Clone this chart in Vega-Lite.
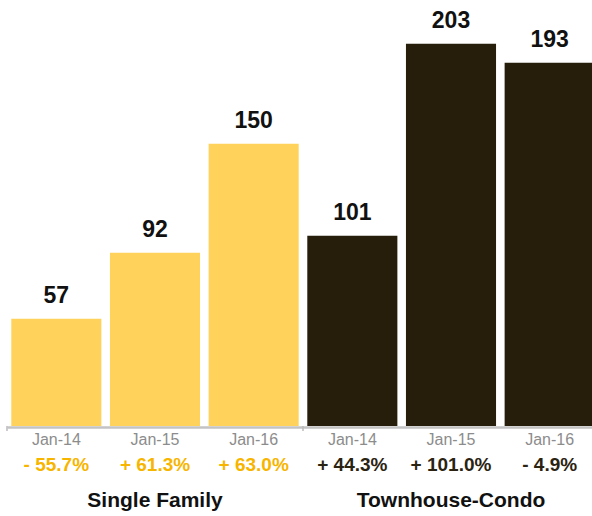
{
  "$schema": "https://vega.github.io/schema/vega-lite/v6.json",
  "width": 585,
  "height": 426,
  "autosize": {"type": "none"},
  "padding": {"left": 7, "top": 0, "right": 0, "bottom": 90},
  "background": "white",
  "config": {"view": {"stroke": null}, "font": "Liberation Sans"},
  "data": {
    "values": [
      {"key": "SF Jan-14", "group": "Single Family", "date": "Jan-14", "value": 57, "pct": "- 55.7%"},
      {"key": "SF Jan-15", "group": "Single Family", "date": "Jan-15", "value": 92, "pct": "+ 61.3%"},
      {"key": "SF Jan-16", "group": "Single Family", "date": "Jan-16", "value": 150, "pct": "+ 63.0%"},
      {"key": "TC Jan-14", "group": "Townhouse-Condo", "date": "Jan-14", "value": 101, "pct": "+ 44.3%"},
      {"key": "TC Jan-15", "group": "Townhouse-Condo", "date": "Jan-15", "value": 203, "pct": "+ 101.0%"},
      {"key": "TC Jan-16", "group": "Townhouse-Condo", "date": "Jan-16", "value": 193, "pct": "- 4.9%"}
    ]
  },
  "encoding": {
    "x": {
      "field": "key",
      "type": "nominal",
      "sort": null,
      "scale": {"range": [0, 592], "paddingInner": 0.087, "paddingOuter": 0.0435},
      "axis": {"labels": false, "ticks": false, "title": null, "domainColor": "#c3c3c3", "domainWidth": 2.5, "offset": 1}
    }
  },
  "layer": [
    {
      "mark": {"type": "bar"},
      "encoding": {
        "y": {"field": "value", "type": "quantitative", "scale": {"domain": [0, 226.3], "nice": false}, "axis": null},
        "color": {"field": "group", "type": "nominal", "scale": {"domain": ["Single Family", "Townhouse-Condo"], "range": ["#FFD35B", "#261D0A"]}, "legend": null}
      }
    },
    {
      "mark": {"type": "text", "dy": -16, "baseline": "alphabetic", "fontSize": 23, "fontWeight": "bold", "color": "#111111"},
      "encoding": {
        "y": {"field": "value", "type": "quantitative"},
        "text": {"field": "value", "type": "quantitative"}
      }
    },
    {
      "mark": {"type": "text", "dy": 19, "baseline": "alphabetic", "fontSize": 16, "color": "#8c8c8c"},
      "encoding": {
        "y": {"datum": 0},
        "text": {"field": "date"}
      }
    },
    {
      "transform": [{"filter": "datum.group === 'Single Family'"}],
      "mark": {"type": "text", "dy": 44.7, "baseline": "alphabetic", "fontSize": 19, "fontWeight": "bold", "color": "#F7B500"},
      "encoding": {
        "y": {"datum": 0},
        "text": {"field": "pct"}
      }
    },
    {
      "transform": [{"filter": "datum.group === 'Townhouse-Condo'"}],
      "mark": {"type": "text", "dy": 44.7, "baseline": "alphabetic", "fontSize": 19, "fontWeight": "bold", "color": "#2B2311"},
      "encoding": {
        "y": {"datum": 0},
        "text": {"field": "pct"}
      }
    },
    {
      "transform": [{"filter": "datum.date === 'Jan-15'"}],
      "mark": {"type": "text", "dy": 81.3, "baseline": "alphabetic", "fontSize": 21, "fontWeight": "bold", "color": "#111111"},
      "encoding": {
        "y": {"datum": 0},
        "text": {"field": "group"}
      }
    },
    {
      "transform": [{"filter": "datum.date === 'Jan-14'"}],
      "mark": {"type": "rule", "color": "#bbbbbb", "strokeWidth": 1.5, "xOffset": -4.3, "y2Offset": 5},
      "encoding": {
        "x": {"field": "key", "type": "nominal", "sort": null, "bandPosition": 0},
        "y": {"datum": 0},
        "y2": {"datum": 0}
      }
    }
  ]
}
